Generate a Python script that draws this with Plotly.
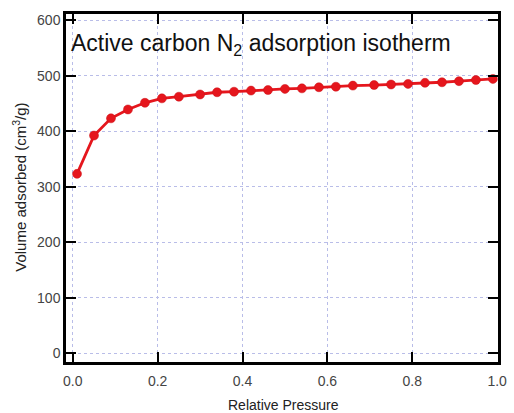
import plotly.graph_objects as go

relative_pressure = [0.01, 0.05, 0.09, 0.13, 0.17, 0.21, 0.25, 0.30, 0.34, 0.38,
                     0.42, 0.46, 0.50, 0.54, 0.58, 0.62, 0.66, 0.71, 0.75, 0.79,
                     0.83, 0.87, 0.91, 0.95, 0.99]
volume_adsorbed = [323, 392, 423, 439, 451, 459, 462, 466, 470, 471,
                   473, 474, 476, 477, 479, 480, 482, 483, 484, 485,
                   487, 488, 490, 492, 494]

x_ticks = [0.0, 0.2, 0.4, 0.6, 0.8, 1.0]
x_tick_labels = ["0.0", "0.2", "0.4", "0.6", "0.8", "1.0"]
y_ticks = [0, 100, 200, 300, 400, 500, 600]

title_text = "Active carbon N<sub>2</sub> adsorption isotherm"
x_title = "Relative Pressure"
y_title = "Volume adsorbed (cm<sup>3</sup>/g)"

red = "#e5161d"
font_family = "Liberation Sans, Arial, sans-serif"

fig = go.Figure()
fig.add_trace(go.Scatter(
    x=relative_pressure, y=volume_adsorbed, mode="lines+markers",
    line=dict(color=red, width=2.8),
    marker=dict(color=red, size=9, line=dict(color="#cc1017", width=0.5)),
    showlegend=False,
))

axis_common = dict(
    showline=True, linecolor="black", linewidth=2.5, mirror="ticks",
    ticks="inside", ticklen=10, tickwidth=2, tickcolor="black",
    showgrid=True, gridcolor="#b9bde8", griddash="dot", gridwidth=1,
    zeroline=False,
    tickfont=dict(family=font_family, size=14, color="#444"),
)

fig.update_layout(
    width=514, height=413,
    margin=dict(l=66, r=7, t=14, b=51),
    paper_bgcolor="white", plot_bgcolor="white",
    font=dict(family=font_family),
    xaxis=dict(range=[-0.016, 1.002], tickvals=x_ticks, ticktext=x_tick_labels,
               ticklabelstandoff=4, **axis_common),
    yaxis=dict(range=[-16, 611], tickvals=y_ticks, **axis_common),
    annotations=[
        dict(text=title_text, xref="paper", yref="paper", x=0.006, y=0.96,
             xanchor="left", yanchor="top", showarrow=False,
             font=dict(family=font_family, size=23, color="#111")),
        dict(text=x_title, xref="paper", yref="paper", x=0.503, y=-0.124,
             xanchor="center", yanchor="middle", showarrow=False,
             font=dict(family=font_family, size=14, color="#222")),
        dict(text=y_title, xref="paper", yref="paper", x=-0.107, y=0.503,
             xanchor="center", yanchor="middle", showarrow=False, textangle=-90,
             font=dict(family=font_family, size=15, color="#222")),
    ],
)

fig.write_html("out.html", config={"displayModeBar": False},
               post_script="document.body.style.margin='0px';")
